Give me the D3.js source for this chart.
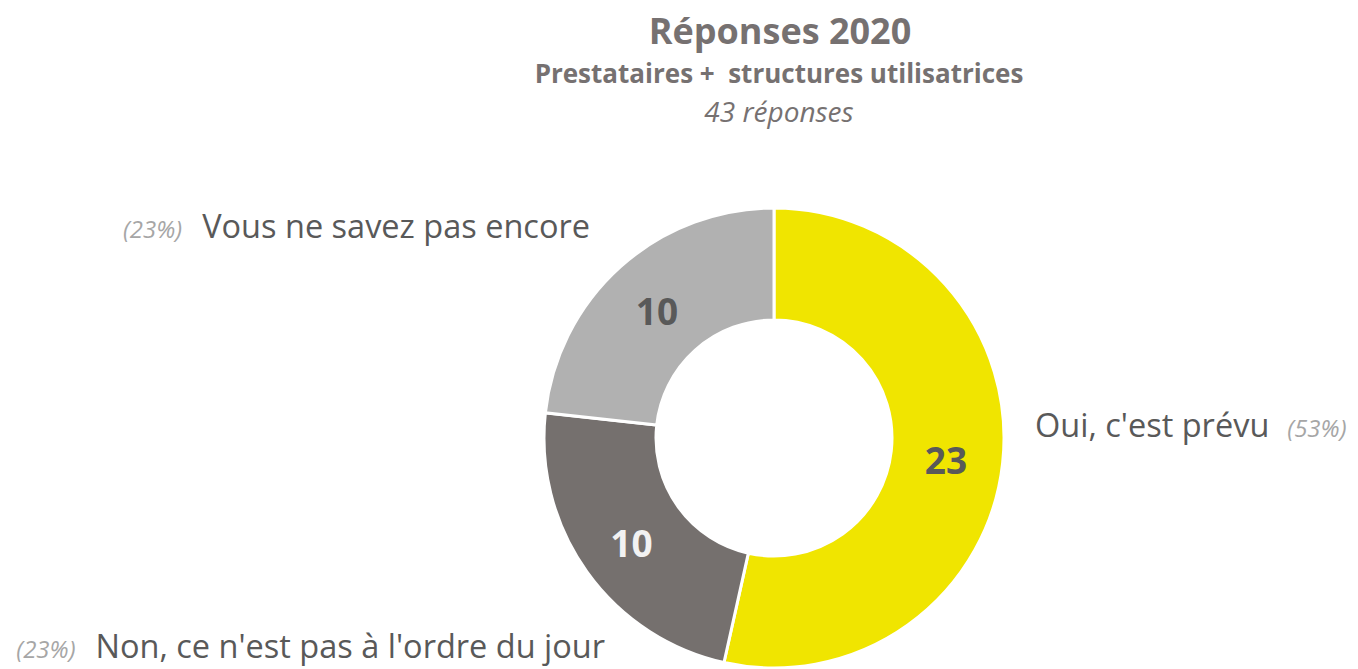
<!DOCTYPE html>
<html>
<head>
<meta charset="utf-8">
<script src="https://cdn.jsdelivr.net/npm/d3@7"></script>
<style>
  body { margin: 0; background: #fff; }
  text { font-family: "Open Sans", sans-serif; }
</style>
</head>
<body>
<div id="chart"></div>
<script>
// data
var categories = ["Oui, c'est prévu", "Non, ce n'est pas à l'ordre du jour", "Vous ne savez pas encore"];
var values = [23, 10, 10];
var colors = ["#F0E500", "#75706E", "#B1B1B1"];
var valueColors = ["#595959", "#F2F2F2", "#595959"];
var titleLines = ["Réponses 2020", "Prestataires +  structures utilisatrices", "43 réponses"];

var width = 1358, height = 669;
var cx = 774, cy = 438;
var outerR = 230, innerR = 118;

var svg = d3.select('#chart').append('svg')
    .attr('width', width)
    .attr('height', height);

// titles
svg.append('text')
    .attr('x', 780).attr('y', 44)
    .attr('text-anchor', 'middle')
    .attr('font-weight', 'bold')
    .style('font-size', '36px')
    .attr('fill', '#767171')
    .text(titleLines[0]);
svg.append('text')
    .attr('x', 779).attr('y', 83)
    .attr('text-anchor', 'middle')
    .attr('font-weight', 'bold')
    .style('font-size', '26px')
    .attr('fill', '#767171')
    .style('white-space', 'pre')
    .text(titleLines[1]);
svg.append('text')
    .attr('x', 779).attr('y', 122)
    .attr('text-anchor', 'middle')
    .style('font-style', 'italic')
    .style('font-size', '28px')
    .attr('fill', '#767171')
    .text(titleLines[2]);

var total = d3.sum(values);
var pctFormat = d3.format('.0%');

var pie = d3.pie().sort(null).value(function(d){ return d; });
var arcs = pie(values);
var arc = d3.arc().innerRadius(innerR).outerRadius(outerR);

var g = svg.append('g').attr('transform', 'translate(' + cx + ',' + cy + ')');

g.selectAll('path.slice')
    .data(arcs)
  .enter().append('path')
    .attr('class', 'slice')
    .attr('d', arc)
    .attr('fill', function(d, i){ return colors[i]; })
    .attr('stroke', '#fff')
    .attr('stroke-width', 3);

// value labels inside ring
var valueShift = [[-1, 2], [-1, 3], [-1, 2]];
g.selectAll('text.val')
    .data(arcs)
  .enter().append('text')
    .attr('class', 'val')
    .attr('x', function(d, i){ return arc.centroid(d)[0] + valueShift[i][0]; })
    .attr('y', function(d, i){ return arc.centroid(d)[1] + valueShift[i][1]; })
    .attr('text-anchor', 'middle')
    .attr('dominant-baseline', 'central')
    .attr('font-weight', 'bold')
    .style('font-size', '37px')
    .attr('fill', function(d, i){ return valueColors[i]; })
    .text(function(d){ return d.data; });

// outside labels (offset from the ring centre)
var labelOffsets = [[261, -1], [-169, 220], [-184, -200]];
var labels = g.selectAll('g.lbl')
    .data(arcs)
  .enter().append('g')
    .attr('class', 'lbl')
    .attr('transform', function(d, i){
        return 'translate(' + labelOffsets[i][0] + ',' + labelOffsets[i][1] + ')';
    });

labels.each(function(d, i){
    var t = d3.select(this).append('text')
        .attr('text-anchor', i === 0 ? 'start' : 'end');
    var pct = '(' + pctFormat(d.data / total) + ')';
    if (i === 0) {
        t.append('tspan')
            .style('font-size', '32.5px')
            .attr('fill', '#595959')
            .text(categories[i]);
        t.append('tspan')
            .attr('dx', 18)
            .style('font-size', '24px')
            .style('font-style', 'italic')
            .attr('fill', '#A6A6A6')
            .text(pct);
    } else {
        t.append('tspan')
            .style('font-size', '24px')
            .style('font-style', 'italic')
            .attr('fill', '#A6A6A6')
            .text(pct);
        t.append('tspan')
            .attr('dx', 20)
            .style('font-size', '32.5px')
            .attr('fill', '#595959')
            .text(categories[i]);
    }
});
</script>
</body>
</html>
